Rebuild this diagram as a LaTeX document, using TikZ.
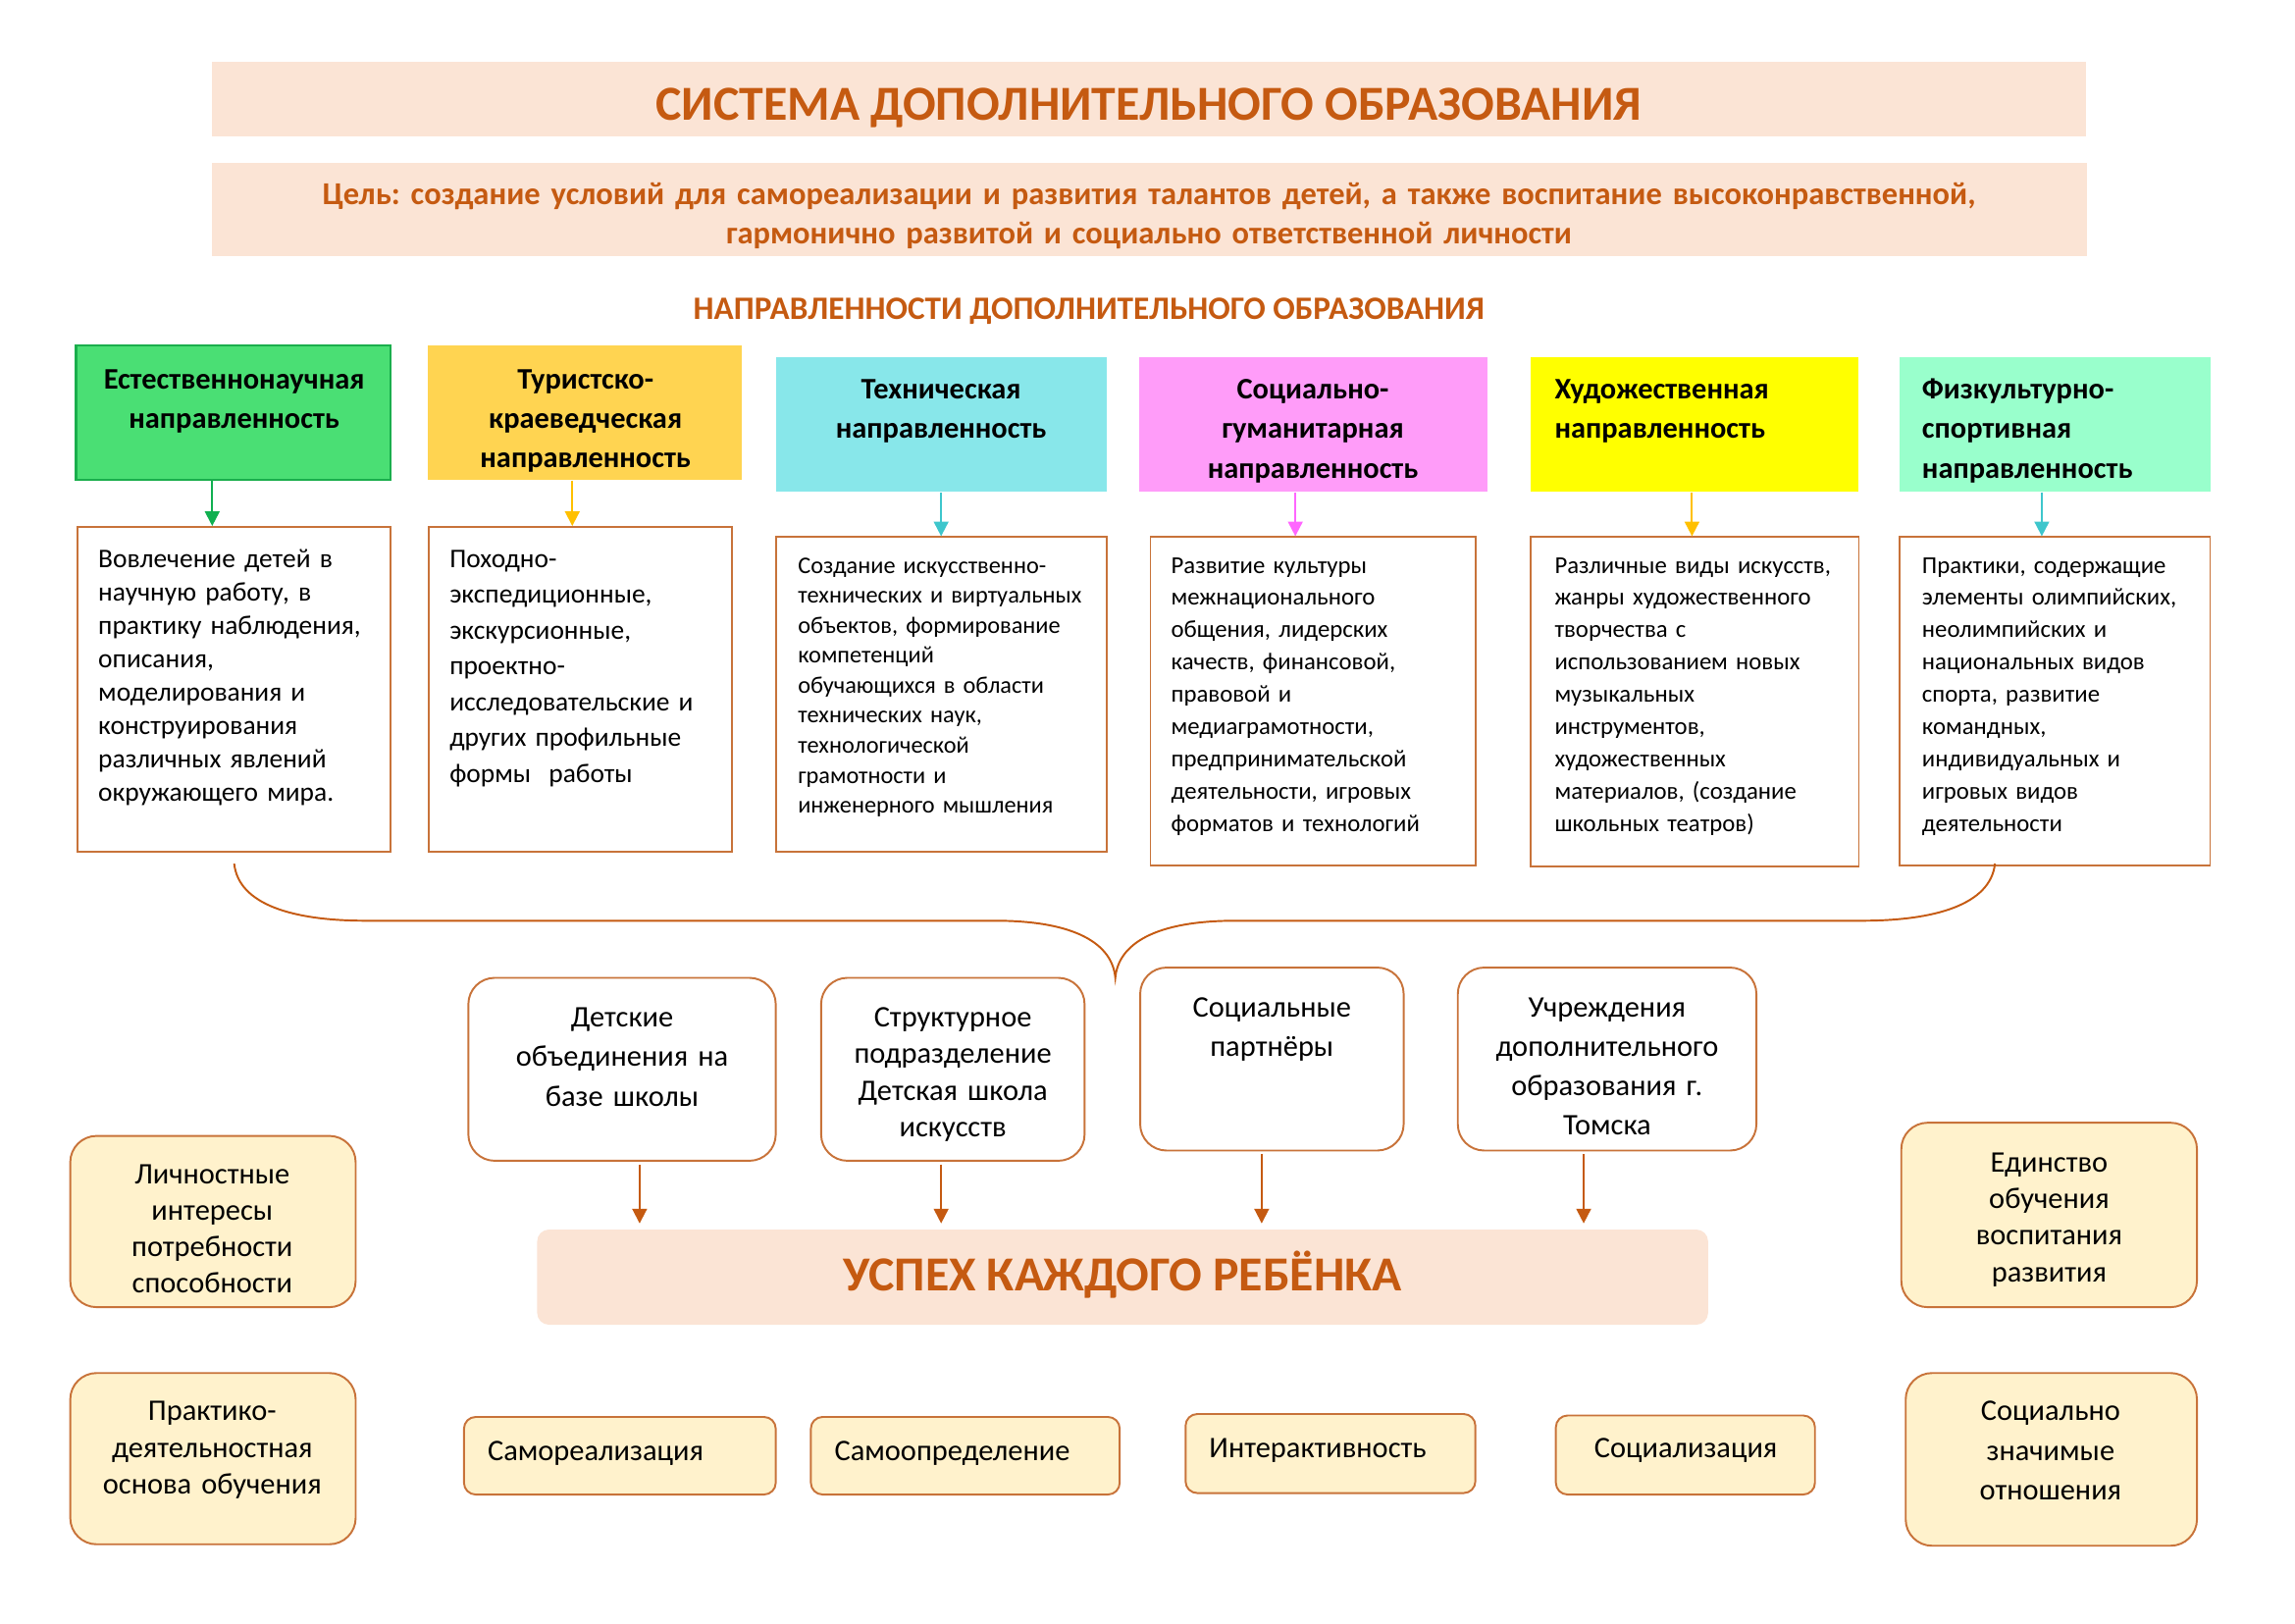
\documentclass[tikz,border=0pt]{standalone}
\usepackage{fontspec}
\setmainfont{Carlito}
\usetikzlibrary{arrows.meta,positioning}

\definecolor{peach}{HTML}{FBE4D5}
\definecolor{rust}{HTML}{C55A11}
\definecolor{boxline}{HTML}{C8733A}
\definecolor{cream}{HTML}{FFF2CC}
\definecolor{natgreen}{HTML}{4ADF74}
\definecolor{natline}{HTML}{1AAE4C}
\definecolor{tourgold}{HTML}{FFD451}
\definecolor{techcyan}{HTML}{88E7EA}
\definecolor{socpink}{HTML}{FF9CF9}
\definecolor{artyellow}{HTML}{FFFF00}
\definecolor{sportmint}{HTML}{99FFCC}
\definecolor{arrgreen}{HTML}{10B050}
\definecolor{arrgold}{HTML}{FFC000}
\definecolor{arrcyan}{HTML}{3EC6CC}
\definecolor{arrpink}{HTML}{FF66FF}

\tikzset{
  band/.style={rectangle, fill=peach, draw=none, inner sep=0pt},
  headbox/.style={rectangle, draw=none, inner sep=0pt},
  descbox/.style={rectangle, draw=boxline, line width=1.3pt, fill=white, inner sep=0pt},
  unitbox/.style={rectangle, rounded corners=18pt, draw=boxline, line width=1.3pt, fill=white, inner sep=0pt},
  sidebox/.style={rectangle, rounded corners=18pt, draw=boxline, line width=1.3pt, fill=cream, inner sep=0pt},
  valuebox/.style={rectangle, rounded corners=8pt, draw=boxline, line width=1.3pt, fill=cream, inner sep=0pt},
  bigcaps/.style={inner sep=0pt, text=rust, font=\bfseries\fontsize{33.4}{40}\selectfont},
  headtext/.style={inner sep=0pt, text width=#1, font=\bfseries\fontsize{20.4}{27}\selectfont},
  bodytext/.style={inner sep=0pt, align=left, text width=205pt},
  midtext/.style={inner sep=0pt, align=center, text width=#1},
  tip/.style={-{Triangle[length=10pt,width=10pt]}, line width=1.3pt}
}

\begin{document}
\frenchspacing
\begin{tikzpicture}[x=1pt, y=-1pt]
  \useasboundingbox (0,0) rectangle (1568,1108.8);

  % Title and goal
  \node[band, minimum width=1280, minimum height=51] (title) at (785,67.5) {};
  \node[bigcaps, anchor=base] (titletext) at (785,82) {СИСТЕМА ДОПОЛНИТЕЛЬНОГО ОБРАЗОВАНИЯ};
  \node[band, minimum width=1281, minimum height=64] (goal) at (785.5,143) {};
  \node[inner sep=0pt, anchor=base, align=center, text width=1280pt, text=rust,
        font=\bfseries\fontsize{21.8}{27}\selectfont] (goaltext) at (785,139.5)
    {Цель: создание условий для самореализации и развития талантов детей, а также воспитание высоконравственной,\\
     гармонично развитой и социально ответственной личности};
  \node[inner sep=0pt, anchor=base, text=rust, font=\bfseries\fontsize{22.3}{27}\selectfont] (dirtitle) at (744,218.5)
    {НАПРАВЛЕННОСТИ ДОПОЛНИТЕЛЬНОГО ОБРАЗОВАНИЯ};

  % Direction headers
  \node[headbox, fill=natgreen, draw=natline, line width=1.5pt, minimum width=215, minimum height=92] (head1) at (159.5,282) {};
  \node[headtext=215pt, align=center, anchor=base] at (160,265.5) {Естественнонаучная\\ направленность};
  \node[headbox, fill=tourgold, minimum width=215, minimum height=92] (head2) at (399.5,282) {};
  \node[headtext=215pt, align=center, anchor=base] at (400,265.5) {Туристско-\\ краеведческая\\ направленность};
  \node[headbox, fill=techcyan, minimum width=226, minimum height=92] (head3) at (643,290) {};
  \node[headtext=226pt, align=center, anchor=base] at (643,272.5) {Техническая\\ направленность};
  \node[headbox, fill=socpink, minimum width=238, minimum height=92] (head4) at (897,290) {};
  \node[headtext=238pt, align=center, anchor=base] at (897,272.5) {Социально-\\ гуманитарная\\ направленность};
  \node[headbox, fill=artyellow, minimum width=224, minimum height=92] (head5) at (1158,290) {};
  \node[headtext=205pt, align=left, anchor=base west] at (1062,272.5) {Художественная\\ направленность};
  \node[headbox, fill=sportmint, minimum width=212, minimum height=92] (head6) at (1404,290) {};
  \node[headtext=195pt, align=left, anchor=base west] at (1313,272.5) {Физкультурно-\\ спортивная\\ направленность};

  % Direction contents
  \node[descbox, minimum width=214, minimum height=222] (desc1) at (160,471) {};
  \node[bodytext, anchor=base west, font=\fontsize{18.4}{22.8}\selectfont] at (67,387.5)
    {Вовлечение детей в\\ научную работу, в\\ практику наблюдения,\\ описания,\\ моделирования и\\ конструирования\\ различных явлений\\ окружающего мира.};
  \node[descbox, minimum width=207, minimum height=222] (desc2) at (396.5,471) {};
  \node[bodytext, anchor=base west, font=\fontsize{18.4}{24.5}\selectfont] at (307,387.5)
    {Походно-\\ экспедиционные,\\ экскурсионные,\\ проектно-\\ исследовательские и\\ других профильные\\ формы~~работы};
  \node[descbox, minimum width=226, minimum height=215] (desc3) at (643,474.5) {};
  \node[bodytext, anchor=base west, font=\fontsize{16.3}{20.5}\selectfont] at (545,391.5)
    {Создание искусственно-\\ технических и виртуальных\\ объектов, формирование\\ компетенций\\ обучающихся в области\\ технических наук,\\ технологической\\ грамотности и\\ инженерного мышления};
  \node[descbox, minimum width=222, minimum height=224] (desc4) at (897,479) {};
  \node[bodytext, anchor=base west, font=\fontsize{16.6}{22.1}\selectfont] at (800,391.5)
    {Развитие культуры\\ межнационального\\ общения, лидерских\\ качеств, финансовой,\\ правовой и\\ медиаграмотности,\\ предпринимательской\\ деятельности, игровых\\ форматов и технологий};
  \node[descbox, minimum width=224, minimum height=225] (desc5) at (1158,479.5) {};
  \node[bodytext, anchor=base west, font=\fontsize{16.6}{22.1}\selectfont] at (1062,391.5)
    {Различные виды искусств,\\ жанры художественного\\ творчества с\\ использованием новых\\ музыкальных\\ инструментов,\\ художественных\\ материалов, (создание\\ школьных театров)};
  \node[descbox, minimum width=212, minimum height=224] (desc6) at (1404,479) {};
  \node[bodytext, anchor=base west, font=\fontsize{16.6}{22.1}\selectfont] at (1313,391.5)
    {Практики, содержащие\\ элементы олимпийских,\\ неолимпийских и\\ национальных видов\\ спорта, развитие\\ командных,\\ индивидуальных и\\ игровых видов\\ деятельности};

  % Arrows from headers to contents
  \foreach \i/\dx/\col in {1/-14.5/arrgreen, 2/-8.5/arrgold, 3/0/arrcyan, 4/-12/arrpink, 5/-2/arrgold, 6/-9/arrcyan} {
    \coordinate (from\i) at ([xshift=\dx pt]head\i.south);
    \draw[tip, \col] (from\i) -- (from\i |- desc\i.north);
  }

  % Brace
  \draw[rust, line width=1.3pt] (160,590) .. controls (163,618) and (200,629) .. (250,629) -- (680,629)
    .. controls (735,629) and (760,645) .. (762,668)
    .. controls (764,645) and (789,629) .. (844,629) -- (1272,629)
    .. controls (1322,629) and (1360,618) .. (1363,590);

  % Where the work is done
  \node[unitbox, minimum width=210, minimum height=125] (unitA) at (425,730.5) {};
  \node[midtext=210pt, anchor=base, font=\fontsize{20.4}{27}\selectfont] at (425,701.5) {Детские\\ объединения на\\ базе школы};
  \node[unitbox, minimum width=180, minimum height=125] (unitB) at (651,730.5) {};
  \node[midtext=180pt, anchor=base, font=\fontsize{20.4}{25}\selectfont] at (651,701.5) {Структурное\\ подразделение\\ Детская школа\\ искусств};
  \node[unitbox, minimum width=180, minimum height=125] (unitC) at (869,723.5) {};
  \node[midtext=180pt, anchor=base, font=\fontsize{20.4}{27}\selectfont] at (869,694.5) {Социальные\\ партнёры};
  \node[unitbox, minimum width=204, minimum height=125] (unitD) at (1098,723.5) {};
  \node[midtext=204pt, anchor=base, font=\fontsize{20.4}{27}\selectfont] at (1098,694.5) {Учреждения\\ дополнительного\\ образования г.\\ Томска};

  % Result
  \node[band, rounded corners=8pt, minimum width=800, minimum height=65] (success) at (767,872.5) {};
  \node[bigcaps, anchor=base] at (767,882) {УСПЕХ КАЖДОГО РЕБЁНКА};

  \foreach \u/\dx in {A/12, B/-8, C/-7, D/-16} {
    \coordinate (down\u) at ([xshift=\dx pt]unit\u.south);
    \draw[tip, rust, shorten <=2pt, shorten >=4pt] (down\u) -- (down\u |- success.north);
  }

  % Principles
  \node[sidebox, minimum width=195, minimum height=117] (personal) at (145.5,834.5) {};
  \node[midtext=195pt, anchor=base, font=\fontsize{20.4}{25}\selectfont] at (145,808.5) {Личностные\\ интересы\\ потребности\\ способности};
  \node[sidebox, minimum width=195, minimum height=117] (practice) at (145.5,996.5) {};
  \node[midtext=195pt, anchor=base, font=\fontsize{20.4}{25}\selectfont] at (145,970.5) {Практико-\\ деятельностная\\ основа обучения};
  \node[sidebox, minimum width=202, minimum height=126] (unity) at (1400,830) {};
  \node[midtext=202pt, anchor=base, font=\fontsize{20.4}{25}\selectfont] at (1400,800.5) {Единство\\ обучения\\ воспитания\\ развития};
  \node[sidebox, minimum width=199, minimum height=118] (relations) at (1401.5,997) {};
  \node[midtext=199pt, anchor=base, font=\fontsize{20.4}{27}\selectfont] at (1401,970.5) {Социально\\ значимые\\ отношения};

  \node[valuebox, minimum width=213, minimum height=53] (selfreal) at (423.5,994.5) {};
  \node[inner sep=0pt, anchor=base west, font=\fontsize{20.4}{24}\selectfont] at (333,998) {Самореализация};
  \node[valuebox, minimum width=211, minimum height=53] (selfdet) at (659.5,994.5) {};
  \node[inner sep=0pt, anchor=base west, font=\fontsize{20.4}{24}\selectfont] at (570,998) {Самоопределение};
  \node[valuebox, minimum width=198, minimum height=54] (interact) at (909,993) {};
  \node[inner sep=0pt, anchor=base west, font=\fontsize{20.4}{24}\selectfont] at (826,996) {Интерактивность};
  \node[valuebox, minimum width=177, minimum height=54] (social) at (1151.5,994) {};
  \node[inner sep=0pt, anchor=base west, font=\fontsize{20.4}{24}\selectfont] at (1089,996) {Социализация};
\end{tikzpicture}
\end{document}
